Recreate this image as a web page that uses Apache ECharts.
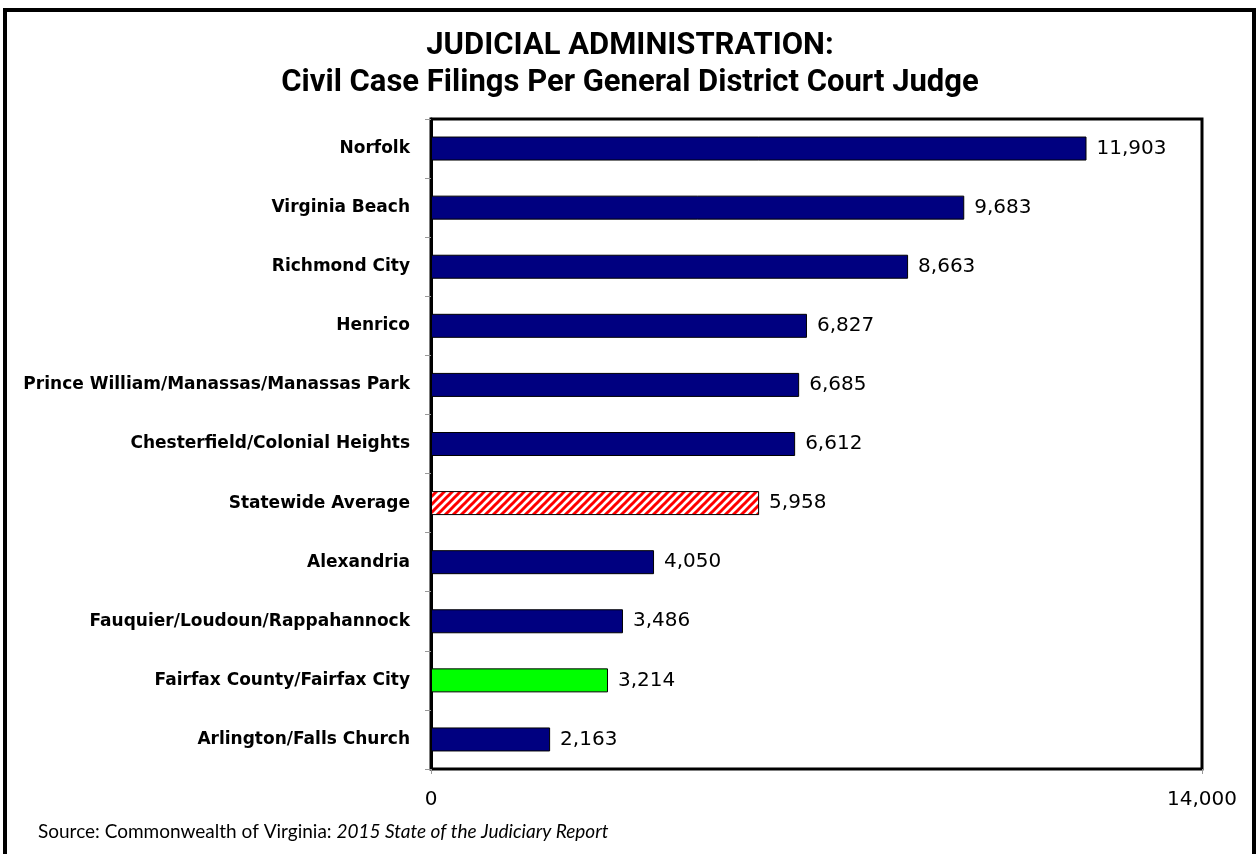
<!DOCTYPE html>
<html>
<head>
<meta charset="utf-8">
<script src="https://cdn.jsdelivr.net/npm/echarts@6/dist/echarts.min.js"></script>
<style>
  html, body { margin: 0; padding: 0; background: #fff; }
  #chart { width: 1259px; height: 854px; }
</style>
</head>
<body>
<div id="chart"></div>
<script>
const categories = [
  'Norfolk',
  'Virginia Beach',
  'Richmond City',
  'Henrico',
  'Prince William/Manassas/Manassas Park',
  'Chesterfield/Colonial Heights',
  'Statewide Average',
  'Alexandria',
  'Fauquier/Loudoun/Rappahannock',
  'Fairfax County/Fairfax City',
  'Arlington/Falls Church'
]
const filings = [11903, 9683, 8663, 6827, 6685, 6612, 5958, 4050, 3486, 3214, 2163]
const xTicks = [0, 14000]

// red/white diagonal hatch for the statewide average bar
const makeHatch = () => {
  const c = document.createElement('canvas')
  c.width = 8
  c.height = 8
  const ctx = c.getContext('2d')
  ctx.fillStyle = '#fff'
  ctx.fillRect(0, 0, 8, 8)
  ctx.strokeStyle = '#ff0000'
  ctx.lineWidth = 3
  for (let k = -1; k <= 1; k++) {
    ctx.beginPath()
    ctx.moveTo(k * 8 - 2, 10)
    ctx.lineTo(k * 8 + 10, -2)
    ctx.stroke()
  }
  return c
}

const barColor = (name) => {
  if (name === 'Statewide Average') return { image: makeHatch(), repeat: 'repeat' }
  if (name === 'Fairfax County/Fairfax City') return '#00ff00'
  return '#000080'
}

const titleLine = (text, y) => ({
  type: 'text',
  x: 630,
  y: y,
  style: {
    text: text,
    align: 'center',
    verticalAlign: 'middle',
    fontFamily: 'Roboto',
    fontWeight: 'bold',
    fontSize: 31,
    fill: '#000'
  },
  silent: true
})

const chart = echarts.init(document.getElementById('chart'))

const option = {
  animation: false,
  backgroundColor: '#fff',
  graphic: [
    {
      type: 'rect',
      shape: { x: 5, y: 10, width: 1249, height: 900 },
      style: { fill: 'none', stroke: '#000', lineWidth: 4 },
      silent: true
    },
    titleLine('JUDICIAL ADMINISTRATION:', 46),
    titleLine('Civil Case Filings Per General District Court Judge', 83),
    {
      type: 'text',
      left: 38,
      top: 822,
      style: {
        text: '{n|Source: Commonwealth of Virginia: }{i|2015 State of the Judiciary Report}',
        rich: {
          n: { fontFamily: 'Lato', fontSize: 19, fill: '#000' },
          i: { fontFamily: 'Lato', fontSize: 19, fontStyle: 'italic', fill: '#000' }
        }
      }
    }
  ],
  grid: {
    left: 431,
    right: 57,
    top: 119,
    bottom: 85,
    show: true,
    borderColor: '#000',
    borderWidth: 3,
    containLabel: false
  },
  xAxis: {
    type: 'value',
    min: xTicks[0],
    max: xTicks[xTicks.length - 1],
    interval: 14000,
    splitLine: { show: false },
    axisLine: { show: false },
    axisTick: { show: true, length: 5, lineStyle: { color: '#999' } },
    axisLabel: {
      margin: 21,
      fontFamily: 'DejaVu Sans',
      fontSize: 20,
      color: '#000',
      formatter: (v) => v.toLocaleString('en-US')
    }
  },
  yAxis: {
    type: 'category',
    data: categories,
    inverse: true,
    axisLine: { show: true, lineStyle: { color: '#000', width: 3 } },
    axisTick: { show: true, length: 6, lineStyle: { color: '#999' } },
    axisLabel: {
      margin: 21,
      fontFamily: 'DejaVu Sans',
      fontWeight: 'bold',
      fontSize: 17,
      color: '#000'
    }
  },
  series: [
    {
      type: 'bar',
      barWidth: 24,
      data: filings.map((v, i) => ({
        value: v,
        itemStyle: { color: barColor(categories[i]) }
      })),
      itemStyle: { borderColor: '#000', borderWidth: 1 },
      label: {
        show: true,
        position: 'right',
        distance: 10,
        fontFamily: 'DejaVu Sans',
        fontSize: 20,
        color: '#000',
        formatter: (p) => p.value.toLocaleString('en-US')
      }
    }
  ]
}

chart.setOption(option)
</script>
</body>
</html>
